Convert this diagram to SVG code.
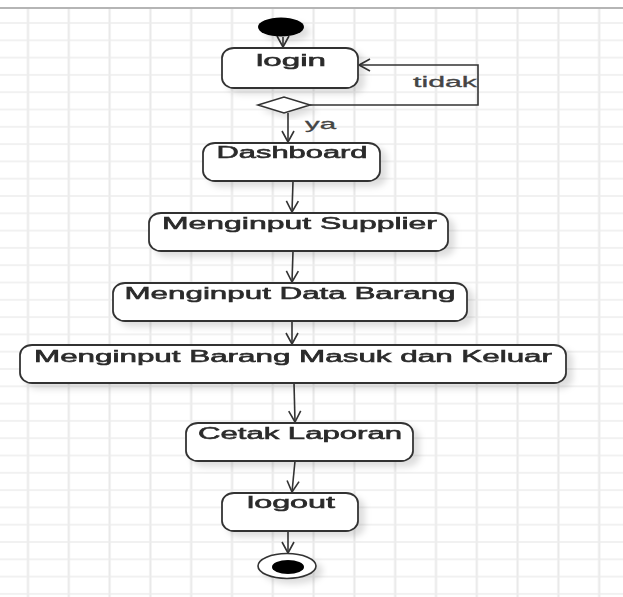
<svg xmlns="http://www.w3.org/2000/svg" width="623" height="597" viewBox="0 0 623 597">
<style>
.box{fill:#fff;stroke:#333;stroke-width:1.8}
.lbl{font-family:"Liberation Sans",Arial,sans-serif;font-size:16px;fill:#2a2a2a;stroke:#2a2a2a;stroke-width:0.55;text-anchor:middle}
.edge{fill:none;stroke:#333;stroke-width:1.6}
.note{font-family:"Liberation Sans",Arial,sans-serif;font-size:15px;fill:#444;stroke:#444;stroke-width:0.3}
</style>
<defs>
<pattern id="grid" patternUnits="userSpaceOnUse" x="7.6" y="14.35" width="40.8" height="17.3">
<line x1="20.4" y1="0" x2="20.4" y2="17.3" stroke="#e8e8e8" stroke-width="2"/>
<line x1="0" y1="8.65" x2="40.8" y2="8.65" stroke="#ededed" stroke-width="1.5"/>
</pattern>
<filter id="sh" x="-10%" y="-20%" width="130%" height="160%">
<feDropShadow dx="6" dy="5" stdDeviation="3" flood-color="#000" flood-opacity="0.13"/>
</filter>
<marker id="arr" markerUnits="userSpaceOnUse" markerWidth="16" markerHeight="16" viewBox="-14 -8 16 16" refX="0" refY="0" orient="auto">
<path d="M-11,-6 L0,0 L-11,6" fill="none" stroke="#333" stroke-width="1.6"/>
</marker>
</defs>
<rect x="0" y="0" width="623" height="597" fill="#fff"/>
<rect x="0" y="9" width="623" height="588" fill="url(#grid)"/>
<line x1="0" y1="8" x2="623" y2="8" stroke="#b5b5b5" stroke-width="1.8"/>

<g id="connectors">
<line class="edge" x1="283" y1="37" x2="283" y2="47" marker-end="url(#arr)"/>
<polyline class="edge" points="310,105 478,105 478,65 359,65" marker-end="url(#arr)"/>
<line class="edge" x1="288" y1="113" x2="288" y2="142" marker-end="url(#arr)"/>
<line class="edge" x1="293" y1="181" x2="292" y2="212" marker-end="url(#arr)"/>
<line class="edge" x1="293" y1="251" x2="292" y2="282" marker-end="url(#arr)"/>
<line class="edge" x1="292" y1="321" x2="292" y2="344" marker-end="url(#arr)"/>
<line class="edge" x1="294" y1="383" x2="295" y2="422" marker-end="url(#arr)"/>
<line class="edge" x1="295" y1="461" x2="292" y2="492" marker-end="url(#arr)"/>
<line class="edge" x1="288" y1="531" x2="288" y2="553" marker-end="url(#arr)"/>
<text class="note" x="413" y="87" textLength="64" lengthAdjust="spacingAndGlyphs">tidak</text>
<text class="note" x="305" y="129" font-size="17" textLength="31" lengthAdjust="spacingAndGlyphs">ya</text>
</g>

<g id="start" filter="url(#sh)">
<ellipse cx="281" cy="27" rx="23" ry="9.5" fill="#000"/>
</g>

<g id="login" filter="url(#sh)">
<rect class="box" x="222" y="48" width="136" height="40" rx="12" ry="10"/>
<text class="lbl" x="291" y="66" textLength="70" lengthAdjust="spacingAndGlyphs">login</text>
</g>

<g id="decision" filter="url(#sh)">
<polygon points="258,105 284,97 310,105 284,113" fill="#fff" stroke="#333" stroke-width="1.6"/>
</g>

<g id="dashboard" filter="url(#sh)">
<rect class="box" x="203" y="143" width="177" height="38" rx="12" ry="10"/>
<text class="lbl" x="292" y="158" textLength="151" lengthAdjust="spacingAndGlyphs">Dashboard</text>
</g>

<g id="supplier" filter="url(#sh)">
<rect class="box" x="149" y="213" width="299" height="38" rx="12" ry="10"/>
<text class="lbl" x="299.5" y="229" textLength="275" lengthAdjust="spacingAndGlyphs">Menginput Supplier</text>
</g>

<g id="databarang" filter="url(#sh)">
<rect class="box" x="113" y="283" width="354" height="38" rx="12" ry="10"/>
<text class="lbl" x="290" y="299" textLength="331" lengthAdjust="spacingAndGlyphs">Menginput Data Barang</text>
</g>

<g id="barangmasuk" filter="url(#sh)">
<rect class="box" x="20" y="345" width="546" height="38" rx="12" ry="10"/>
<text class="lbl" x="293" y="362" textLength="518" lengthAdjust="spacingAndGlyphs">Menginput Barang Masuk dan Keluar</text>
</g>

<g id="cetak" filter="url(#sh)">
<rect class="box" x="186" y="423" width="227" height="38" rx="12" ry="10"/>
<text class="lbl" x="300" y="439" textLength="204" lengthAdjust="spacingAndGlyphs">Cetak Laporan</text>
</g>

<g id="logout" filter="url(#sh)">
<rect class="box" x="222" y="493" width="136" height="38" rx="12" ry="10"/>
<text class="lbl" x="291" y="508" textLength="88" lengthAdjust="spacingAndGlyphs">logout</text>
</g>

<g id="end" filter="url(#sh)">
<ellipse cx="287" cy="566" rx="29" ry="12.5" fill="#fff" stroke="#333" stroke-width="1.6"/>
<ellipse cx="288" cy="567" rx="16" ry="7" fill="#000"/>
</g>
</svg>
